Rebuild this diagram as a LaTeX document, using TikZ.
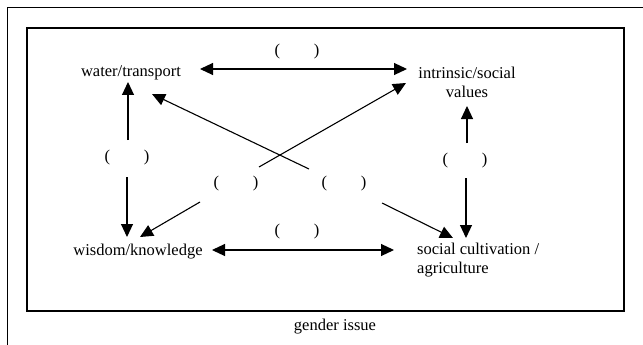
\documentclass[tikz,border=0pt]{standalone}
\usepackage{fontspec}
\setmainfont{Liberation Serif}
\usetikzlibrary{arrows.meta,calc}
\begin{document}
\begin{tikzpicture}[x=1pt,y=-1pt,
  lbl/.style={inner sep=0pt,font=\fontsize{16.5}{19}\selectfont},
  arr/.style={line width=1.1pt,-{Triangle[length=13pt,width=12pt]}},
  darr/.style={line width=1.1pt,{Triangle[length=13pt,width=12pt]}-{Triangle[length=13pt,width=12pt]}},
  frame/.style={line width=1pt}]
\useasboundingbox (0,0) rectangle (643,345);
\draw[frame] (7,345) -- (7,8) -- (643,8);
\draw[frame,line width=1.2pt] (27,28) rectangle (624,311);
% nodes
\node[lbl] (wt) at (131,73) {water/transport};
\node[lbl,align=center] (isv) at (467,82) {intrinsic/social\\values};
\node[lbl] (wk) at (138,252) {wisdom/knowledge};
\node[lbl,align=left,anchor=west] (sca) at (417,260) {social cultivation /\\agriculture};
\node[lbl] (pT) at (297,52) {(\hspace{34pt})};
\node[lbl] (pL) at (127,158) {(\hspace{34pt})};
\node[lbl] (pR) at (465,161) {(\hspace{34pt})};
\node[lbl] (pML) at (236,184) {(\hspace{34pt})};
\node[lbl] (pMR) at (344,184) {(\hspace{34pt})};
\node[lbl] (pB) at (297,232) {(\hspace{34pt})};
\node[lbl] (gi) at (335,327) {gender issue};
% connectors
\draw[darr] ($(wt)+(69,-4)$) -- ($(isv)+(-60,-13)$);
\draw[darr] ($(wk)+(74,-2)$) -- ($(sca.west)+(-23,-10)$);
\draw[arr] ($(pL)+(1,-18)$) -- ($(wt)+(-3,9)$);
\draw[arr] ($(pL)+(0,19)$) -- ($(wk)+(-11,-15)$);
\draw[arr] ($(pR)+(2,-18)$) -- ($(isv)+(0,24)$);
\draw[arr] ($(pR)+(1,17)$) -- ($(sca.west)+(49,-22)$);
\draw[arr] ($(pMR)+(-35,-15)$) -- ($(wt)+(21,21)$);
\draw[arr] ($(pML)+(23,-17)$) -- ($(isv)+(-61,1)$);
\draw[arr] ($(pML)+(-36,18)$) -- ($(wk)+(2,-15)$);
\draw[arr] ($(pMR)+(38,19)$) -- ($(sca.west)+(36,-22)$);
\end{tikzpicture}
\end{document}
